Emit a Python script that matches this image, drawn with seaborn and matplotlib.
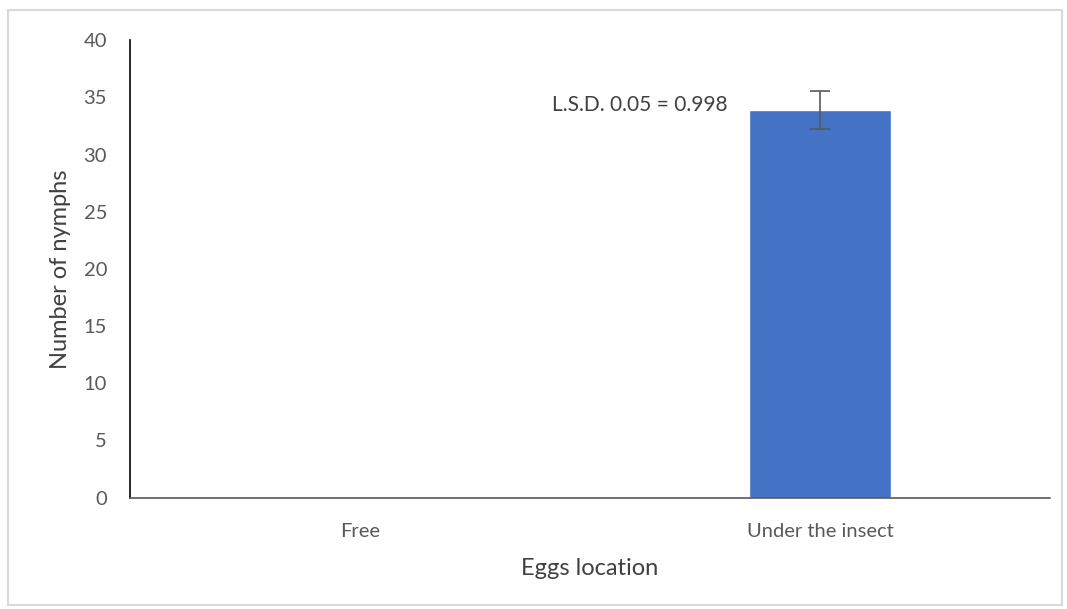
import matplotlib
matplotlib.use("Agg")
import matplotlib.pyplot as plt
import seaborn as sns
import pandas as pd
from matplotlib.patches import Rectangle

# data
locations = ["Free", "Under the insect"]
nymphs = [0, 33.9]
errors = [0, 1.7]

df = pd.DataFrame({"location": locations, "nymphs": nymphs})

sns.set_style("white")
plt.rcParams['font.family'] = ['Lato', 'DejaVu Sans']

fig = plt.figure(figsize=(10.67, 6.09), dpi=100)
ax = fig.add_axes([0.1218, 0.183, 0.8622, 0.751])

sns.barplot(data=df, x="location", y="nymphs", color="#4472C4", saturation=1,
            width=0.31, errorbar=None, ax=ax)
ax.errorbar([1], [nymphs[1]], yerr=[errors[1]], fmt="none", ecolor="#595959",
            elinewidth=1.2, capsize=7, capthick=1.2)

ax.set_ylim(0, 40)
ax.set_xlim(-0.5, 1.5)
ax.set_yticks(range(0, 41, 5))
ax.tick_params(axis="both", labelsize=14.5, colors="#595959", length=0)
ax.tick_params(axis="y", pad=16.5)
ax.tick_params(axis="x", pad=18)
ax.set_xlabel("Eggs location", fontsize=17, color="#404040", labelpad=13)
ax.set_ylabel("Number of nymphs", fontsize=17, color="#404040", labelpad=9)

for s in ["top", "right"]:
    ax.spines[s].set_visible(False)
ax.spines["left"].set_color("black")
ax.spines["bottom"].set_color("#595959")
ax.spines["left"].set_linewidth(1.2)
ax.spines["bottom"].set_linewidth(1.2)

ax.text(0.8, 34.3, "L.S.D. 0.05 = 0.998", fontsize=15, color="#404040",
        ha="right", va="center")

fig.patches.append(Rectangle((8 / 1067, 4 / 609), 1054 / 1067, 595 / 609,
                             transform=fig.transFigure, fill=False,
                             edgecolor="#D9D9D9", linewidth=1.5))

plt.savefig("out.png", dpi=100)
